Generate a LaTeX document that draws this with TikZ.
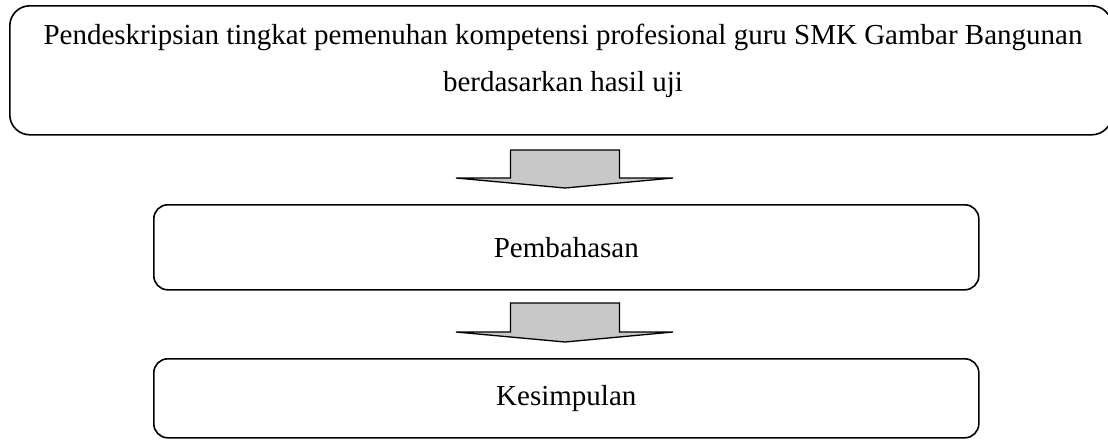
\documentclass[tikz,border=0pt]{standalone}
\usepackage{fontspec}
\setmainfont{Liberation Serif}
\begin{document}
\begin{tikzpicture}[x=1pt,y=-1pt,
  box/.style={draw=black, line width=1.6pt, rounded corners=14pt, inner sep=0pt, align=center,
    font=\fontsize{29}{47}\selectfont},
  flowarrow/.style={draw=black, line width=1.3pt, fill={rgb,255:red,200;green,200;blue,200}, line join=miter}]
\useasboundingbox (0,0) rectangle (1108,440);
\node[box, rounded corners=20pt, minimum width=1102pt, minimum height=129pt, anchor=north west] (top) at (9,5) {};
\node[font=\fontsize{29}{47}\selectfont, align=center, inner sep=0pt] (toptext) at (563,61)
  {Pendeskripsian tingkat pemenuhan kompetensi profesional guru SMK Gambar Bangunan\\berdasarkan hasil uji};
\node[box, minimum width=825pt, minimum height=85pt, anchor=north west] (mid) at (153,204) {Pembahasan};
\node[box, minimum width=825pt, minimum height=79pt, anchor=north west] (bot) at (153,358) {Kesimpulan};
% arrow 1
\coordinate (a1) at (565,150);
\draw[flowarrow] ([shift={(-54.5,0)}]a1) -- ([shift={(54.5,0)}]a1) -- ([shift={(54.5,28)}]a1)
  -- ([shift={(108,28)}]a1) -- ([shift={(0,38)}]a1) -- ([shift={(-109,28)}]a1)
  -- ([shift={(-54.5,28)}]a1) -- cycle;
% arrow 2
\coordinate (a2) at (565,303);
\draw[flowarrow] ([shift={(-54.5,0)}]a2) -- ([shift={(54.5,0)}]a2) -- ([shift={(54.5,29)}]a2)
  -- ([shift={(108,29)}]a2) -- ([shift={(0,39)}]a2) -- ([shift={(-109,29)}]a2)
  -- ([shift={(-54.5,29)}]a2) -- cycle;
\end{tikzpicture}
\end{document}
